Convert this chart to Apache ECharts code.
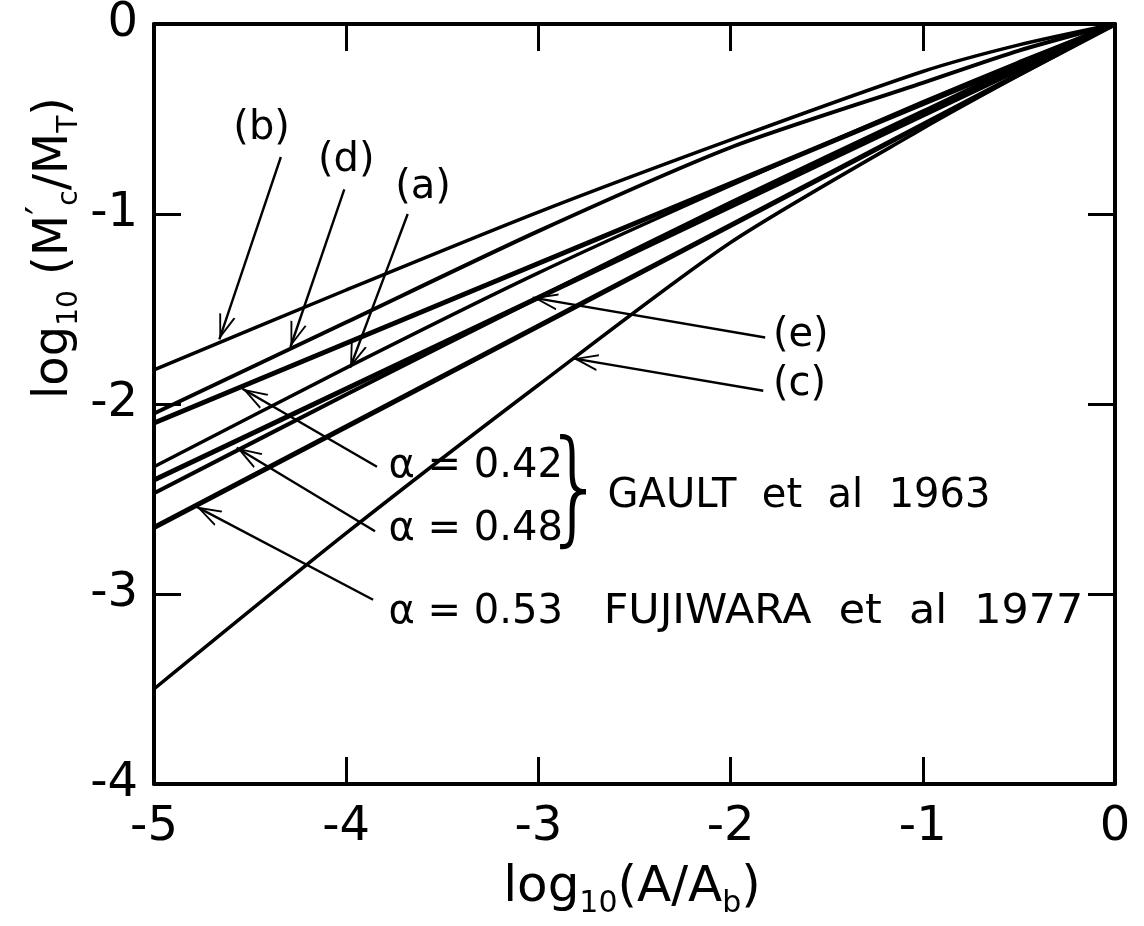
<!DOCTYPE html>
<html>
<head>
<meta charset="UTF-8">
<script src="https://cdn.jsdelivr.net/npm/echarts@6.0.0/dist/echarts.min.js"></script>
<style>
  html, body { margin: 0; padding: 0; background: #fff; }
  #chart { width: 1144px; height: 926px; }
</style>
</head>
<body>
<div id="chart"></div>
<script>
var xs = [-5, -4, -3, -2, -1, -0.5, 0];
// model curves (a)..(e), log10(M'c/MT)
var curveB = [-1.82, -1.40, -0.99, -0.61, -0.25, -0.11, 0];
var curveD = [-2.05, -1.57, -1.09, -0.65, -0.31, -0.14, 0];
var curveA = [-2.33, -1.81, -1.31, -0.85, -0.41, -0.20, 0];
var curveE = [-2.47, -1.95, -1.44, -0.94, -0.46, -0.22, 0];
var curveC = [-3.50, -2.68, -1.90, -1.15, -0.55, -0.27, 0];
// measured slopes, straight lines
var lineX = [-5, 0];
var alpha042 = [-2.10, 0];
var alpha048 = [-2.40, 0];
var alpha053 = [-2.65, 0];

var FONT = 'DejaVu Sans';
var chart = echarts.init(document.getElementById('chart'));

function pts(xv, yv) {
  return xv.map(function (x, i) { return [x, yv[i]]; });
}
function curve(name, ys, w) {
  return {
    name: name, type: 'line', data: pts(xs, ys), showSymbol: false,
    smooth: 0.25, silent: true,
    lineStyle: { color: '#000', width: w }
  };
}
function straight(name, ys) {
  return {
    name: name, type: 'line', data: pts(lineX, ys), showSymbol: false, silent: true,
    lineStyle: { color: '#000', width: 5 }
  };
}

// open arrow head, tip at the symbol centre
var ARROW = 'path://M0,-16 L0.01,-16 L0,-15.99 Z M0,0 L6,16 L4.6,16 L0,3.6 L-4.6,16 L-6,16 Z';

// leader arrows: [from, to] in data coords
var arrows = [
  [[-4.34, -0.70], [-4.66, -1.66]],   // (b)
  [[-4.01, -0.87], [-4.29, -1.70]],   // (d)
  [[-3.68, -1.00], [-3.98, -1.81]],   // (a)
  [[-1.82, -1.65], [-3.03, -1.44]],   // (e)
  [[-1.83, -1.93], [-2.82, -1.76]],   // (c)
  [[-3.84, -2.33], [-4.54, -1.92]],   // 0.42
  [[-3.85, -2.67], [-4.57, -2.23]],   // 0.48
  [[-3.86, -3.03], [-4.78, -2.54]]    // 0.53
];

var axisLine = { show: true, onZero: false, lineStyle: { color: '#000', width: 4 } };
var axisTick = { show: true, inside: true, length: 27, lineStyle: { color: '#000', width: 3 } };

chart.setOption({
  animation: false,
  backgroundColor: '#fff',
  grid: { left: 154, right: 29, top: 22, bottom: 142 },
  xAxis: [
    { type: 'value', min: -5, max: 0, interval: 1, position: 'bottom',
      axisLine: axisLine, axisTick: axisTick, splitLine: { show: false },
      axisLabel: { color: '#000', fontSize: 48, fontFamily: FONT, margin: 20 } },
    { type: 'value', min: -5, max: 0, interval: 1, position: 'top',
      axisLine: axisLine, axisTick: axisTick, splitLine: { show: false },
      axisLabel: { show: false } }
  ],
  yAxis: [
    { type: 'value', min: -4, max: 0, interval: 1, position: 'left',
      axisLine: axisLine, axisTick: axisTick, splitLine: { show: false },
      axisLabel: { color: '#000', fontSize: 48, fontFamily: FONT, margin: 16 } },
    { type: 'value', min: -4, max: 0, interval: 1, position: 'right',
      axisLine: axisLine, axisTick: axisTick, splitLine: { show: false },
      axisLabel: { show: false } }
  ],
  series: [
    curve('b', curveB, 3.5),
    curve('d', curveD, 4),
    curve('a', curveA, 3.5),
    curve('e', curveE, 4),
    curve('c', curveC, 3.5),
    straight('0.42', alpha042),
    straight('0.48', alpha048),
    straight('0.53', alpha053),
    {
      type: 'line', data: [], silent: true,
      markLine: {
        silent: true, animation: false,
        symbol: ['none', ARROW], symbolSize: [17, 50],
        label: { show: false },
        lineStyle: { color: '#000', width: 2.4, type: 'solid' },
        data: arrows.map(function (a) {
          return [{ coord: a[0] }, { coord: a[1] }];
        })
      }
    }
  ]
});

// text annotations, anchored in data coords
function px(x, y) { return chart.convertToPixel({ gridIndex: 0 }, [x, y]); }
var texts = [
  { t: '(b)', at: [-4.44, -0.55], size: 40, align: 'center' },
  { t: '(d)', at: [-4.0, -0.72], size: 40, align: 'center' },
  { t: '(a)', at: [-3.6, -0.86], size: 40, align: 'center' },
  { t: '(e)', at: [-1.78, -1.64], size: 40, align: 'left' },
  { t: '(c)', at: [-1.78, -1.90], size: 40, align: 'left' },
  { t: 'α = 0.42', at: [-3.78, -2.33], size: 40, align: 'left' },
  { t: 'α = 0.48', at: [-3.78, -2.66], size: 40, align: 'left' },
  { t: 'GAULT  et  al  1963', at: [-2.64, -2.49], size: 40, align: 'left' },
  { t: 'α = 0.53', at: [-3.78, -3.10], size: 40, align: 'left' },
  { t: 'FUJIWARA  et  al  1977', at: [-2.66, -3.10], size: 40, align: 'left', sx: 1.07 }
];
var graphics = texts.map(function (d) {
  var p = px(d.at[0], d.at[1]);
  return {
    type: 'text', x: p[0], y: p[1], scaleX: d.sx || 1, silent: true,
    style: { text: d.t, fill: '#000', font: d.size + 'px "' + FONT + '"',
      textAlign: d.align, textVerticalAlign: 'middle' }
  };
});
var bp = px(-2.81, -2.49);
graphics.push({
  type: 'text', x: bp[0], y: bp[1], scaleX: 0.8, silent: true,
  style: { text: '}', fill: '#000', font: '300 124px "' + FONT + '"',
    textAlign: 'center', textVerticalAlign: 'middle' }
});
// axis titles
graphics.push({
  type: 'text', x: 632, y: 888, silent: true,
  style: {
    text: 'log{s|10}(A/A{s|b})', fill: '#000', font: '50px "' + FONT + '"',
    textAlign: 'center', textVerticalAlign: 'middle',
    rich: { s: { fontSize: 30, fontFamily: FONT, padding: [32, 0, 0, 0] } }
  }
});
graphics.push({
  type: 'text', x: 55, y: 248, rotation: Math.PI / 2, silent: true,
  style: {
    text: 'log{s|10} (M{p|′}{s|c}/M{s|T})', fill: '#000', font: '48px "' + FONT + '"',
    textAlign: 'center', textVerticalAlign: 'middle',
    rich: {
      s: { fontSize: 28, fontFamily: FONT, padding: [30, 0, 0, 0] },
      p: { fontSize: 40, fontFamily: FONT, padding: [0, 0, 20, 0] }
    }
  }
});
chart.setOption({ graphic: graphics });
</script>
</body>
</html>
